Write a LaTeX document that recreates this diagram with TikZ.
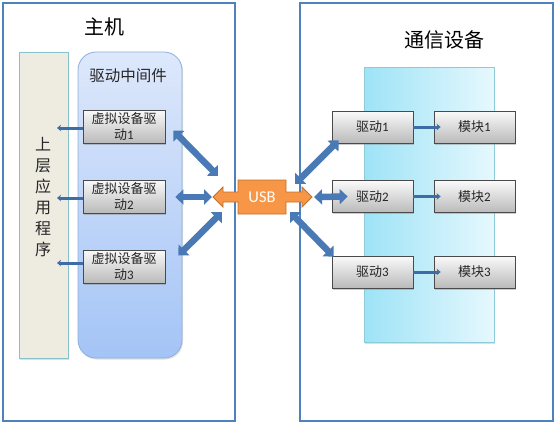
\documentclass[tikz,border=0pt]{standalone}
\usepackage{fontspec}
\setmainfont{Noto Sans CJK SC}
\newfontfamily\lat{Carlito}
\usetikzlibrary{arrows.meta,shadows,calc}
\definecolor{frameblue}{HTML}{4F81BD}
\definecolor{arrowblue}{HTML}{4A7AB5}
\definecolor{thinblue}{HTML}{3E6DA6}
\definecolor{boxedge}{HTML}{4A4A4A}
\definecolor{boxtop}{HTML}{FAFAFA}
\definecolor{boxbot}{HTML}{BABABA}
\definecolor{midtop}{HTML}{DDE8FB}
\definecolor{midbot}{HTML}{A4C4F6}
\definecolor{midedge}{HTML}{8DB0DC}
\definecolor{cyanl}{HTML}{9EE3F7}
\definecolor{cyanr}{HTML}{E6F8FD}
\definecolor{cyanedge}{HTML}{8FCAD9}
\definecolor{beige}{HTML}{EEECE1}
\definecolor{beigeedge}{HTML}{86C2CB}
\definecolor{usbfill}{HTML}{F79646}
\definecolor{usbedge}{HTML}{C0722F}
\begin{document}
\begin{tikzpicture}[x=1pt,y=-1pt,
  frame/.style={draw=frameblue, line width=1.8pt, fill=white, minimum width=#1, minimum height=418pt, inner sep=0pt},
  vbox/.style={draw=boxedge, line width=0.7pt, top color=boxtop, bottom color=boxbot,
    minimum width=82pt, minimum height=33pt, inner sep=0pt, align=center,
    font=\fontsize{13pt}{16pt}\selectfont, text=black!85,
    drop shadow={opacity=0.4, shadow xshift=1.2pt, shadow yshift=-1.5pt}},
  dbox/.style={vbox, minimum width=81pt, minimum height=32pt},
  title/.style={font=\fontsize{20pt}{24pt}\selectfont, text=black},
  bigarrow/.style={line width=6.5pt, draw=arrowblue,
    {Triangle[length=8pt,width=15pt]}-{Triangle[length=8pt,width=15pt]}},
  thinarrow/.style={line width=3pt, draw=thinblue, -{Stealth[length=4pt,width=6.5pt]}},
]
\useasboundingbox (0,0) rectangle (556,426);
% frames
\node[frame=232pt] (host) at (119,212) {};
\node[frame=253pt] (dev) at (426.5,212) {};
\node[title] (hosttitle) at (104,27) {主机};
\node[title] (devtitle) at (444,40) {通信设备};
% left columns
\node[draw=beigeedge, line width=0.7pt, fill=beige, minimum width=49pt, minimum height=306pt, inner sep=0pt,
  drop shadow={opacity=0.25, shadow xshift=1pt, shadow yshift=-1.5pt}] (app) at (43.5,205) {};
\node[align=center, font=\fontsize{16pt}{21pt}\selectfont, text=black!85] (apptext) at (43,197.5)
  {上\\层\\应\\用\\程\\序};
\node[draw=midedge, line width=0.8pt, rounded corners=18pt, top color=midtop, bottom color=midbot,
  minimum width=104pt, minimum height=306pt, inner sep=0pt,
  drop shadow={opacity=0.25, shadow xshift=1pt, shadow yshift=-1.5pt}] (mid) at (130,205) {};
\node[font=\fontsize{15.5pt}{18pt}\selectfont, text=black!85] (midtext) at (128,76) {驱动中间件};
\node[vbox] (vd1) at (124,126.5) {虚拟设备驱\\动{\lat 1}};
\node[vbox] (vd2) at (124,196.5) {虚拟设备驱\\动{\lat 2}};
\node[vbox] (vd3) at (124,266.5) {虚拟设备驱\\动{\lat 3}};
\coordinate (a1) at (57,128);
\coordinate (a2) at (57,198);
\coordinate (a3) at (57,263);
\draw[thinarrow] (vd1.west |- a1) -- (a1);
\draw[thinarrow] (vd2.west |- a2) -- (a2);
\draw[thinarrow] (vd3.west |- a3) -- (a3);
% right column
\node[draw=cyanedge, line width=0.7pt, left color=cyanl, right color=cyanr,
  minimum width=130pt, minimum height=275pt, inner sep=0pt,
  drop shadow={opacity=0.25, shadow xshift=1pt, shadow yshift=-1.5pt}] (col) at (429,204.5) {};
\node[dbox] (d1) at (372.5,127) {驱动{\lat 1}};
\node[dbox] (d2) at (372.5,196.5) {驱动{\lat 2}};
\node[dbox] (d3) at (372.5,272) {驱动{\lat 3}};
\node[dbox] (m1) at (474.5,127) {模块{\lat 1}};
\node[dbox] (m2) at (474.5,196.5) {模块{\lat 2}};
\node[dbox] (m3) at (474.5,272) {模块{\lat 3}};
\draw[thinarrow] (d1.east) -- ([xshift=7pt]m1.west);
\draw[thinarrow] (d2.east) -- ([xshift=7pt]m2.west);
\draw[thinarrow] (d3.east) -- ([xshift=7pt]m3.west);
% USB callout
\node[minimum width=48pt, minimum height=34pt, inner sep=0pt] (usb) at (262,197) {};
\begin{scope}[shift={(usb.center)}]
\draw[fill=usbfill, draw=usbedge, line width=0.8pt, line join=miter]
  (-24,-17) -- (24,-17) -- (24,-5) -- (40,-5) -- (40,-10) -- (50,0) -- (40,10) -- (40,5)
  -- (24,5) -- (24,17) -- (-24,17) -- (-24,5) -- (-39,5) -- (-39,10) -- (-49,0)
  -- (-39,-10) -- (-39,-5) -- (-24,-5) -- cycle;
\end{scope}
\node[text=white, font=\lat\fontsize{16.5pt}{19pt}\selectfont] (usblabel) at (usb.center) {USB};
% big double arrows
\draw[bigarrow] ([shift={(8,4)}]vd1.east) -- ([shift={(-44,-21)}]usb.center);
\draw[bigarrow] ([shift={(10,0.5)}]vd2.east) -- ([shift={(-50,0)}]usb.center);
\draw[bigarrow] ([shift={(13,-11)}]vd3.east) -- ([shift={(-40,15)}]usb.center);
\draw[bigarrow] ([shift={(33,-13)}]usb.center) -- ([shift={(7,-3)}]d1.south west);
\draw[bigarrow] ([shift={(52,0)}]usb.center) -- ([shift={(16,0)}]d2.west);
\draw[bigarrow] ([shift={(28,15)}]usb.center) -- ([shift={(2,1)}]d3.north west);
\end{tikzpicture}
\end{document}
